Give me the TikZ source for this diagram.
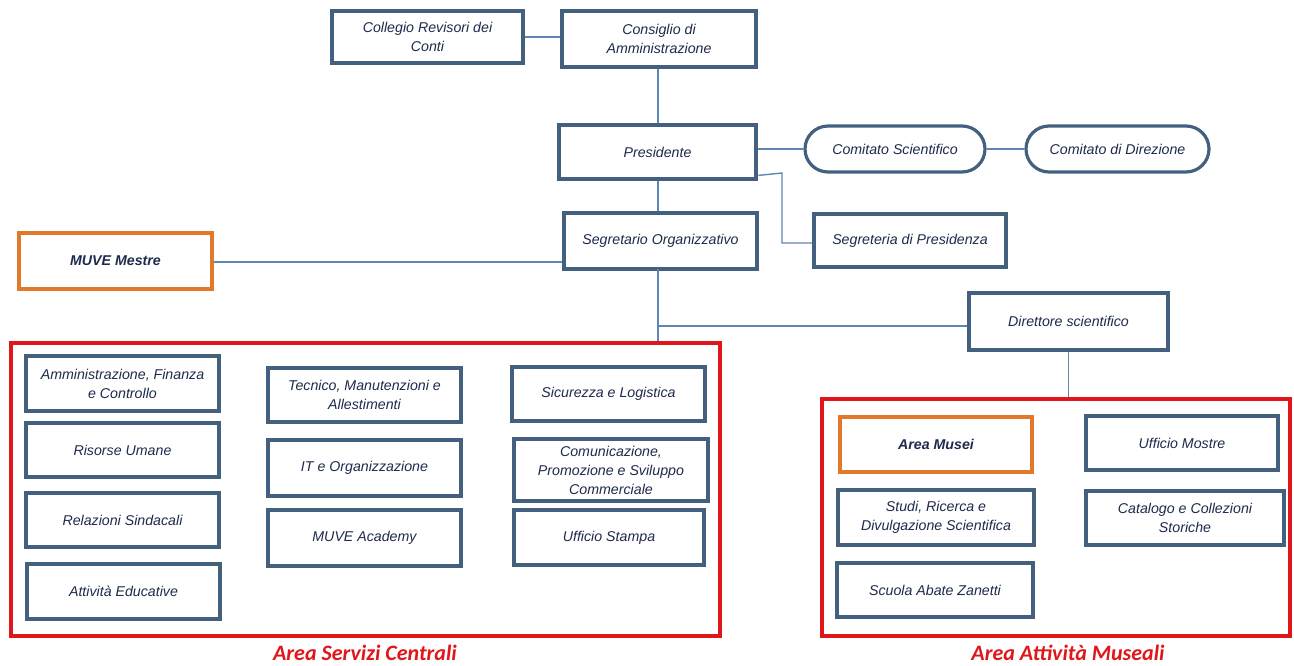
\documentclass[tikz,border=0pt]{standalone}
\usepackage{fontspec}
\setmainfont{Liberation Sans}
\newfontfamily\areafont{Carlito}
\usetikzlibrary{calc,shapes.misc}
\definecolor{boxblue}{HTML}{43607E}
\definecolor{txtnavy}{HTML}{1E2B4C}
\definecolor{linkblue}{HTML}{5E86B4}
\definecolor{areared}{HTML}{E0161B}
\definecolor{muveorange}{HTML}{E07A2A}
\tikzset{
  unit/.style={draw=boxblue, line width=3.2pt, fill=white, align=center, inner sep=2pt,
    font=\fontsize{14.2}{19}\selectfont\itshape, text=txtnavy},
  topunit/.style={unit, line width=4.8pt},
  orangeunit/.style={unit, draw=muveorange, font=\fontsize{14.2}{19}\selectfont\bfseries\itshape},
  committee/.style={unit, rounded rectangle},
  areabox/.style={draw=areared, line width=4pt},
  arealabel/.style={text=areared, font=\areafont\fontsize{22}{26}\selectfont\bfseries\itshape},
  link/.style={draw=linkblue, line width=1.4pt}
}
\begin{document}
\begin{tikzpicture}[x=1pt,y=-1pt]
\useasboundingbox (0,0) rectangle (1294,665);
% area frames
\node[areabox, minimum width=709pt, minimum height=293pt] (servizi) at (365.5,489.5) {};
\node[areabox, minimum width=468pt, minimum height=237pt] (museali) at (1056,517.5) {};
\node[arealabel] (servizilbl) at (365,653) {Area Servizi Centrali};
\node[arealabel] (musealilbl) at (1068,653) {Area Attività Museali};
% top units
\node[unit, minimum width=191pt, minimum height=52pt] (colleg) at (427.5,37) {Collegio Revisori dei\\Conti};
\node[topunit, minimum width=194pt, minimum height=56pt] (consig) at (659,39) {Consiglio di\\Amministrazione};
\node[topunit, minimum width=197pt, minimum height=54pt] (pres) at (657.5,152) {Presidente};
\node[committee, minimum width=184pt, minimum height=46pt] (comsci) at (895,149) {Comitato Scientifico};
\node[committee, minimum width=187pt, minimum height=46pt] (comdir) at (1117.5,149) {Comitato di Direzione};
\node[unit, minimum width=192pt, minimum height=53pt] (segpres) at (910,240.5) {Segreteria di Presidenza};
\node[unit, minimum width=193pt, minimum height=56pt] (segorg) at (660.5,241) {Segretario Organizzativo};
\node[orangeunit, minimum width=193pt, minimum height=56pt] (mestre) at (115.5,261) {MUVE Mestre};
\node[unit, minimum width=199pt, minimum height=57pt] (dir) at (1068.5,321.5) {Direttore scientifico};
% Area Servizi Centrali
\node[unit, minimum width=193pt, minimum height=55pt] (amm) at (122.5,383.5) {Amministrazione, Finanza\\e Controllo};
\node[unit, minimum width=193pt, minimum height=54pt] (ris) at (122.5,450) {Risorse Umane};
\node[unit, minimum width=193pt, minimum height=54pt] (rel) at (122.5,520) {Relazioni Sindacali};
\node[unit, minimum width=193pt, minimum height=55pt] (att) at (123.5,591.5) {Attività Educative};
\node[unit, minimum width=193pt, minimum height=54pt] (tec) at (364.5,395) {Tecnico, Manutenzioni e\\Allestimenti};
\node[unit, minimum width=193pt, minimum height=56pt] (it) at (364.5,468) {IT e Organizzazione};
\node[unit, minimum width=193pt, minimum height=56pt] (aca) at (364.5,538) {MUVE Academy};
\node[unit, minimum width=193pt, minimum height=54pt] (sic) at (608.5,394) {Sicurezza e Logistica};
\node[unit, minimum width=194pt, minimum height=62pt] (com) at (611,470) {Comunicazione,\\Promozione e Sviluppo\\Commerciale};
\node[unit, minimum width=190pt, minimum height=55pt] (stam) at (609,537.5) {Ufficio Stampa};
% Area Attivita Museali
\node[orangeunit, minimum width=192pt, minimum height=55pt] (musei) at (936,444.5) {Area Musei};
\node[unit, minimum width=192pt, minimum height=54pt] (mostre) at (1182,443) {Ufficio Mostre};
\node[unit, minimum width=196pt, minimum height=55pt] (studi) at (936,517.5) {Studi, Ricerca e\\Divulgazione Scientifica};
\node[unit, minimum width=198pt, minimum height=54pt] (cat) at (1185,518) {Catalogo e Collezioni\\Storiche};
\node[unit, minimum width=196pt, minimum height=54pt] (scuola) at (935,590) {Scuola Abate Zanetti};
% connectors
\coordinate (presout) at ($(pres.south east)+(0,-6)$);
\coordinate (bend) at (782,173);
\coordinate (segin) at (782,243);
\coordinate (mestreout) at ($(mestre.east)+(0,1)$);
\coordinate (branch) at (658,326);
\coordinate (segdown) at (658,269);
\draw[link] (colleg.east) -- (colleg.east -| consig.west);
\draw[link] (consig.south -| segdown) -- (pres.north -| segdown);
\draw[link] (comsci.west -| pres.east) -- (comsci.west);
\draw[link] (comsci.east) -- (comdir.west);
\draw[link] (presout) -- (bend) -- (segin) -- (segin -| segpres.west);
\draw[link] (pres.south -| segdown) -- (segorg.north -| segdown);
\draw[link] (mestreout) -- (mestreout -| segorg.west);
\draw[link] (segdown) -- (segdown |- servizi.north);
\draw[link] (branch) -- (branch -| dir.west);
\draw[link] (dir.south) -- (dir.south |- museali.north);
\end{tikzpicture}
\end{document}
